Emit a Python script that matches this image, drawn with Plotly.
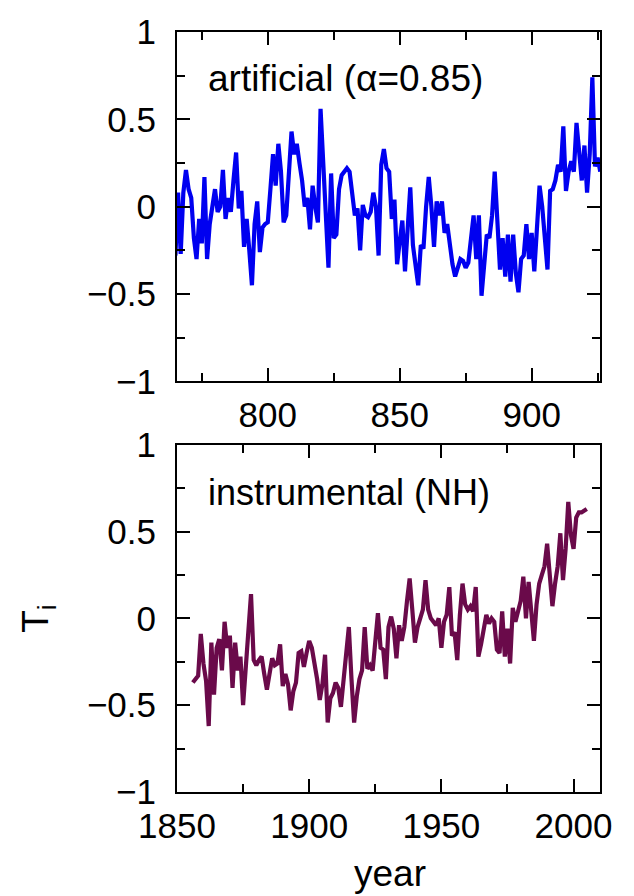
import plotly.graph_objects as go

# ---- data ----
art_years = list(range(765, 927))
art_values = [
    -0.28, 0.08, -0.27, 0.08, 0.21, 0.10, 0.05, -0.18, -0.30, -0.07,   # 765-774
    -0.21, 0.17, -0.30, -0.10, 0.00, 0.10, -0.03, 0.00, 0.21, -0.07,   # 775-784
    0.05, -0.03, 0.15, 0.31, -0.01, 0.09, -0.23, -0.07, -0.25, -0.45,  # 785-794
    -0.10, 0.03, -0.26, -0.12, -0.10, -0.09, 0.10, 0.30, 0.12, 0.36,   # 795-804
    0.20, -0.09, -0.05, 0.20, 0.43, 0.30, 0.36, 0.25, 0.15, 0.00,      # 805-814
    0.05, -0.13, 0.12, 0.00, -0.09, 0.56, 0.25, 0.05, -0.35, 0.19,     # 815-824
    -0.18, -0.16, 0.10, 0.18, 0.20, 0.22, 0.20, 0.08, -0.05, -0.01,    # 825-834
    -0.25, 0.01, -0.05, -0.06, -0.03, 0.08, 0.00, -0.28, 0.24, 0.33,   # 835-844
    0.22, 0.20, -0.07, 0.04, -0.33, -0.20, -0.08, -0.37, -0.10, 0.11,  # 845-854
    -0.22, -0.35, -0.45, -0.22, -0.24, 0.00, 0.17, 0.00, -0.23, 0.03,  # 855-864
    -0.05, 0.03, -0.15, -0.10, -0.22, -0.33, -0.40, -0.34, -0.30, -0.31,  # 865-874
    -0.35, -0.32, -0.20, -0.05, -0.30, -0.05, -0.51, -0.30, -0.16, -0.18,  # 875-884
    -0.05, 0.20, -0.05, -0.36, -0.18, -0.40, -0.16, -0.43, -0.16, -0.38,  # 885-894
    -0.49, -0.30, -0.28, -0.10, -0.30, -0.15, -0.37, -0.10, 0.12, 0.00,   # 895-904
    -0.15, -0.36, 0.09, 0.10, 0.15, 0.24, 0.20, 0.46, 0.09, 0.20,      # 905-914
    0.26, 0.20, 0.48, 0.30, 0.15, 0.35, 0.08, 0.30, 0.74, 0.23,        # 915-924
    0.28, 0.20,                                                        # 925-926
]

inst_years = list(range(1856, 2006))
inst_values = [
    -0.37, -0.35, -0.33, -0.09, -0.26, -0.36, -0.62, -0.14, -0.44, -0.17,  # 1856-1865
    -0.12, -0.30, -0.02, -0.17, -0.10, -0.40, -0.14, -0.30, -0.22, -0.50,  # 1866-1875
    -0.30, -0.10, 0.14, -0.24, -0.27, -0.24, -0.22, -0.32, -0.41, -0.32,   # 1876-1885
    -0.23, -0.27, -0.26, -0.15, -0.39, -0.32, -0.38, -0.53, -0.42, -0.37,  # 1886-1895
    -0.20, -0.19, -0.28, -0.20, -0.13, -0.17, -0.25, -0.35, -0.47, -0.38,  # 1896-1905
    -0.21, -0.60, -0.46, -0.43, -0.37, -0.40, -0.51, -0.36, -0.20, -0.05,  # 1906-1915
    -0.35, -0.60, -0.45, -0.35, -0.30, -0.05, -0.29, -0.27, -0.30, -0.15,  # 1916-1925
    0.03, -0.17, -0.18, -0.35, -0.05, 0.01, -0.06, -0.23, -0.04, -0.13,    # 1926-1935
    -0.05, 0.10, 0.23, 0.05, -0.14, -0.05, 0.00, 0.05, 0.22, 0.05,         # 1936-1945
    0.00, -0.02, -0.04, 0.00, -0.17, -0.02, 0.02, 0.18, -0.10, -0.08,      # 1946-1955
    -0.24, 0.02, 0.20, 0.08, 0.05, 0.07, 0.04, 0.18, -0.22, -0.15,         # 1956-1965
    -0.05, 0.02, -0.03, 0.00, -0.02, -0.18, -0.20, 0.04, -0.22, -0.06,     # 1966-1975
    -0.26, 0.06, -0.02, 0.05, 0.10, 0.24, 0.00, 0.21, 0.00, -0.13,         # 1976-1985
    0.08, 0.20, 0.25, 0.30, 0.43, 0.25, 0.07, 0.20, 0.30, 0.49,            # 1986-1995
    0.22, 0.40, 0.67, 0.48, 0.40, 0.58, 0.61, 0.61, 0.62, 0.63,            # 1996-2005
]

FONT = "Liberation Sans, Arial, Helvetica, sans-serif"
fs = 35
fa = 37

fig = go.Figure()
fig.add_trace(go.Scatter(x=art_years, y=art_values, mode="lines",
                         line=dict(color="#0000f0", width=4.2),
                         xaxis="x", yaxis="y", showlegend=False))
fig.add_trace(go.Scatter(x=inst_years, y=inst_values, mode="lines",
                         line=dict(color="#6a0a4a", width=4.2),
                         xaxis="x2", yaxis="y2", showlegend=False))

def xax(rng, dtick, anchor, tick0):
    return dict(range=rng, dtick=dtick, tick0=tick0, anchor=anchor,
                showline=True, linecolor="black", linewidth=2, mirror="allticks",
                ticks="inside", ticklen=13, tickwidth=2, tickcolor="black",
                minor=dict(ticks="inside", ticklen=8, tickwidth=2, tickcolor="black", dtick=dtick / 2),
                showgrid=False, zeroline=False, ticklabelstandoff=2,
                tickfont=dict(family=FONT, size=fs, color="black"))

def yax(domain, anchor):
    return dict(range=[-1, 1], dtick=0.5, tick0=0, anchor=anchor, domain=domain,
                showline=True, linecolor="black", linewidth=2, mirror="allticks",
                ticks="inside", ticklen=13, tickwidth=2, tickcolor="black",
                minor=dict(ticks="inside", ticklen=8, tickwidth=2, tickcolor="black", dtick=0.25),
                showgrid=False, zeroline=False, ticklabelstandoff=12,
                tickfont=dict(family=FONT, size=fs, color="black"))

fig.update_layout(
    width=634, height=896,
    margin=dict(l=177, r=34, t=24, b=104),
    paper_bgcolor="white", plot_bgcolor="white",
    xaxis=xax([765.6, 925.9], 50, "y", 800),
    yaxis=yax([0.5404, 1.0], "x"),
    xaxis2=xax([1850, 2010], 50, "y2", 1850),
    yaxis2=yax([0.0, 0.457], "x2"),
    annotations=[
        dict(text="artificial (α=0.85)", xref="paper", yref="paper",
             x=(206 - 177) / 423, y=(792 - 71) / 768, xanchor="left", yanchor="middle",
             showarrow=False, font=dict(family=FONT, size=fa, color="black")),
        dict(text="instrumental (NH)", xref="paper", yref="paper",
             x=(206 - 177) / 423, y=(792 - 489) / 768, xanchor="left", yanchor="middle",
             showarrow=False, font=dict(family=FONT, size=fa - 1, color="black")),
        dict(text="year", xref="paper", yref="paper",
             x=(390 - 177) / 423, y=(792 - 874) / 768, xanchor="center", yanchor="middle",
             showarrow=False, font=dict(family=FONT, size=fa, color="black")),
        dict(text="T<sub>i</sub>", xref="paper", yref="paper",
             x=(38 - 177) / 423, y=(792 - 617) / 768, xanchor="center", yanchor="middle",
             textangle=-90, showarrow=False, font=dict(family=FONT, size=fa, color="black")),
    ],
)

fig.write_html("out.html")
